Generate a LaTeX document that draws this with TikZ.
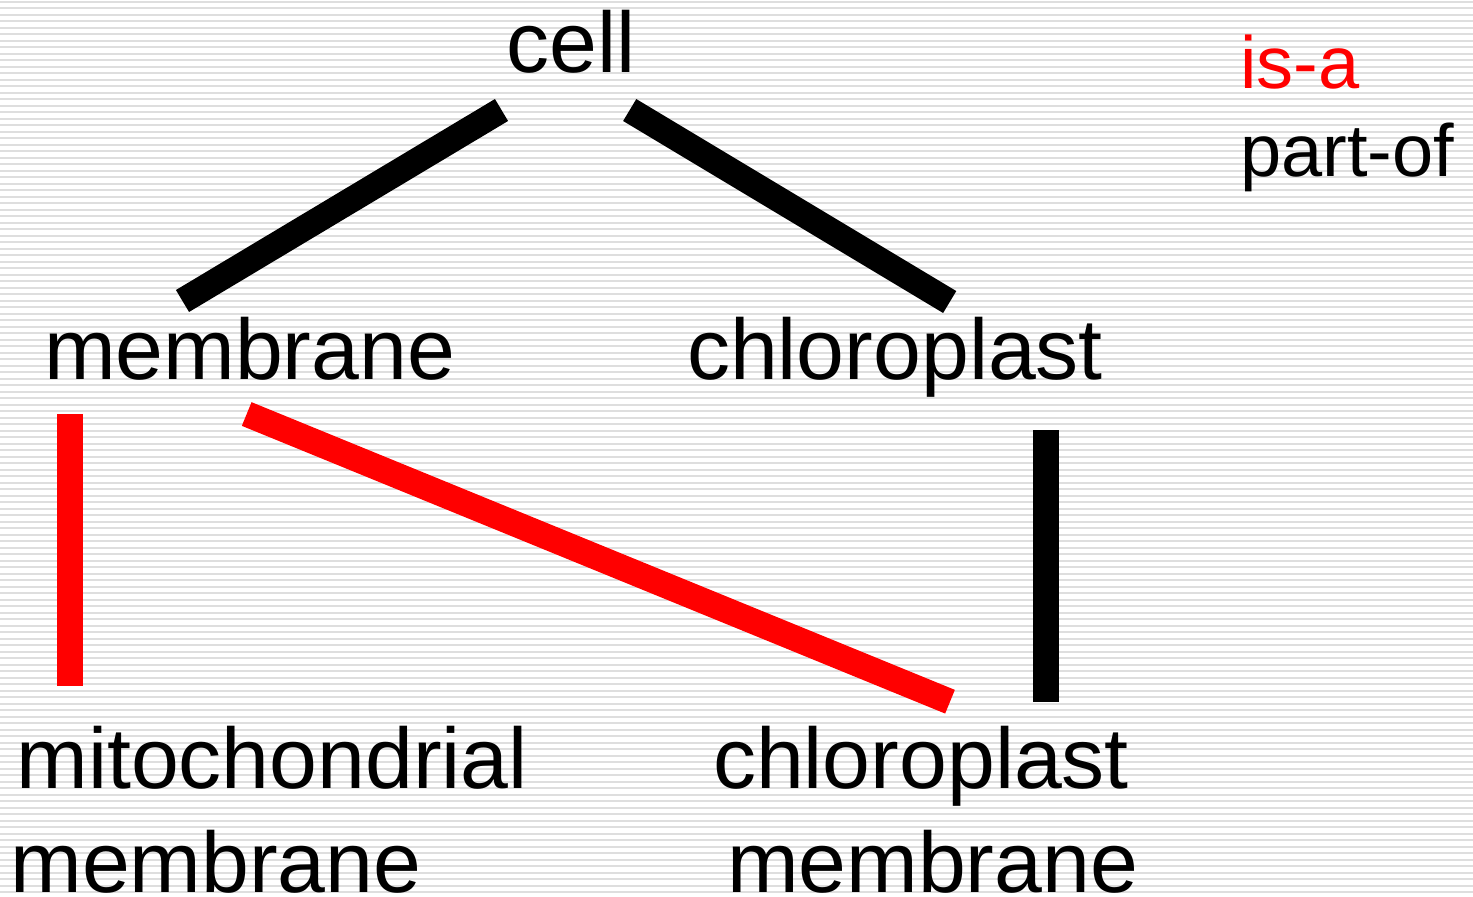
\documentclass[tikz,border=0pt]{standalone}
\usepackage{fontspec}
\setmainfont{Liberation Sans}
\usetikzlibrary{calc}
\definecolor{isared}{RGB}{255,0,0}
\definecolor{stripe}{RGB}{222,222,222}

\begin{document}
\begin{tikzpicture}[x=0.5pt,y=-0.5pt,
    term/.style={inner sep=0pt,anchor=base west,align=left,font=\fontsize{43}{52}\selectfont},
    key/.style={inner sep=0pt,anchor=base west,font=\fontsize{37}{44}\selectfont},
    link/.style={line width=12.8pt,line cap=butt},
    isa/.style={link,isared},
    partof/.style={link,black}]
    \useasboundingbox (0,0) rectangle (1473,896);
    % --- striped background ---
    \foreach \k in {0,...,137}{\draw[stripe,line width=1pt] (0,{1.7+6.5*\k}) -- (1473,{1.7+6.5*\k});}
    % --- terms (two-line ones sit on their last baseline) ---
    \node[term] (cell) at (506,72) {cell};
    \node[term] (membrane) at (43.6,379) {membrane};
    \node[term] (chloroplast) at (686.6,379) {chloroplast};
    \node[term] (mito) at (16,892) {mitochondrial\\\hspace*{-3pt}membrane};
    \node[term] (chlmem) at (712.6,892) {chloroplast\\\hspace*{7pt}membrane};
    % --- legend ---
    \node[key,isared] (keyisa) at (1240,88) {is-a};
    \node[key] (keypart) at (1240,176) {part-of};
    % --- links ---
    \draw[partof] ([shift={(-4.5,38)}]cell.base west) -- ([shift={(138.9,-78)}]membrane.base west);
    \draw[partof] ([shift={(123.7,38)}]cell.base west) -- ([shift={(263.1,-77)}]chloroplast.base west);
    \draw[isa] ([shift={(26.4,35)}]membrane.base west) -- ([shift={(54,-206.3)}]mito.base west);
    \draw[isa] ([shift={(203.1,35)}]membrane.base west) -- ([shift={(237.4,-190.3)}]chlmem.base west);
    \draw[partof] ([shift={(359.4,51)}]chloroplast.base west) -- ([shift={(333.4,-190.3)}]chlmem.base west);
\end{tikzpicture}
\end{document}
